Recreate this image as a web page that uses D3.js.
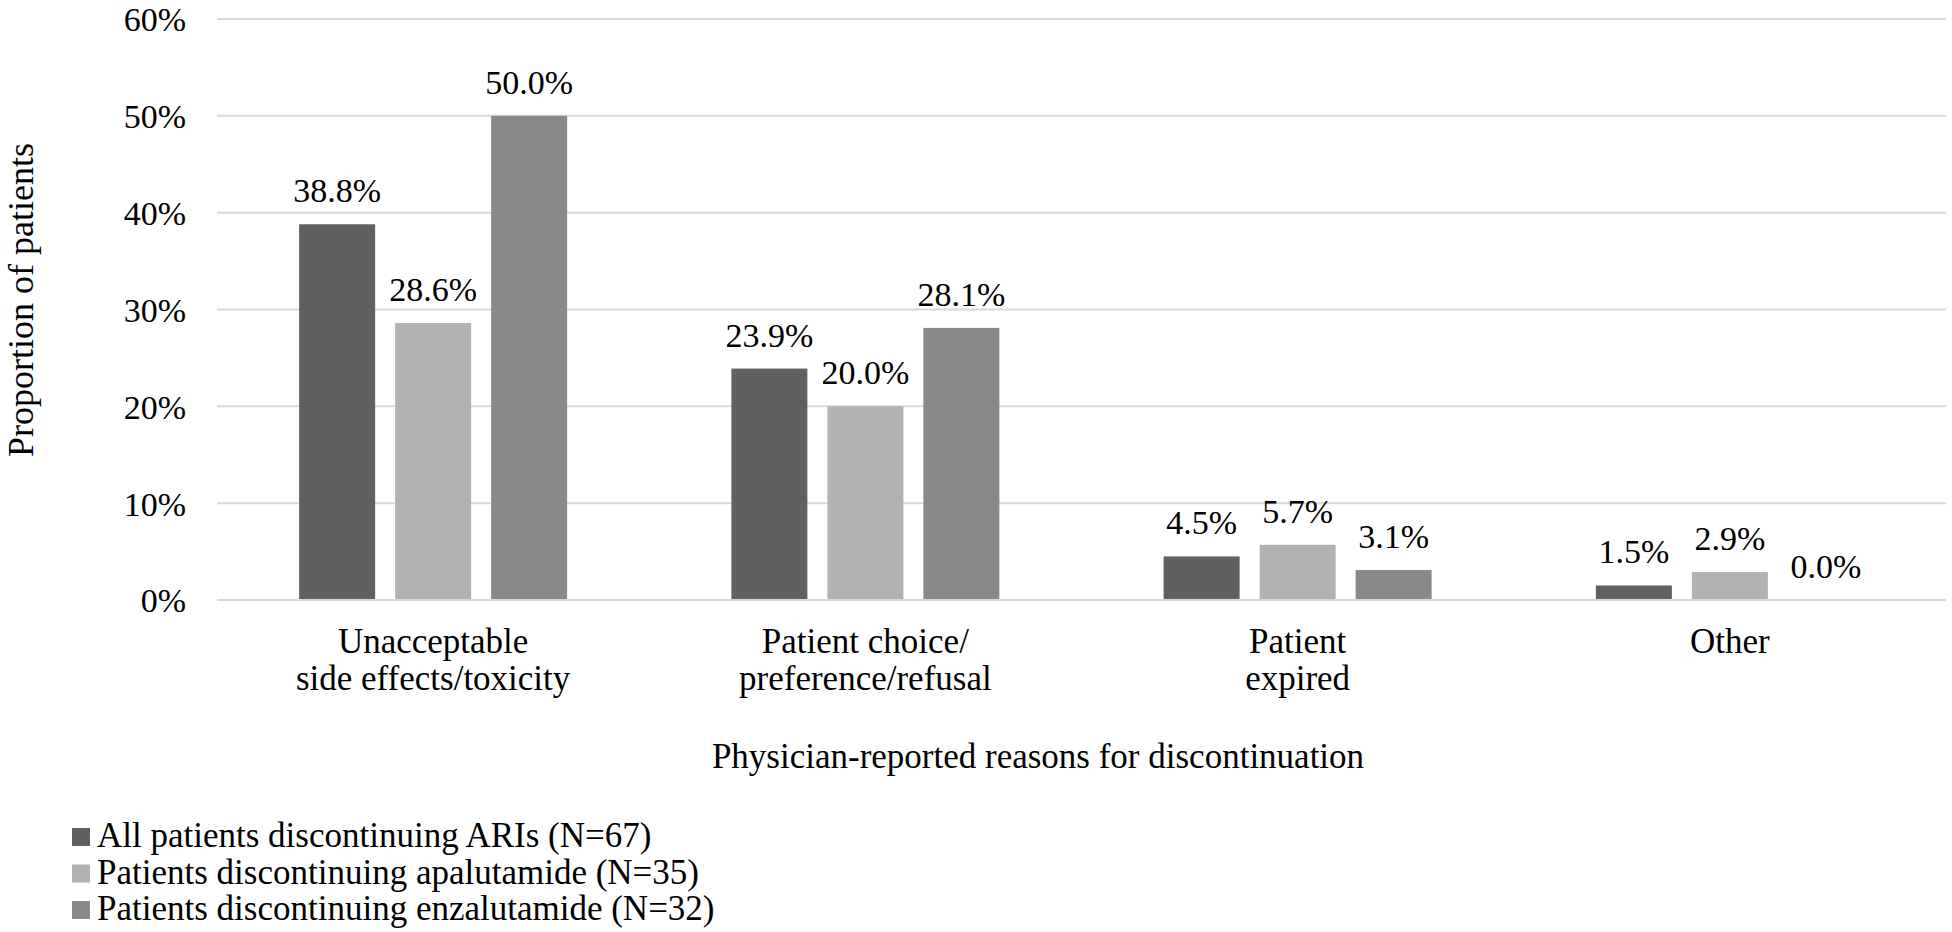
<!DOCTYPE html>
<html>
<head>
<meta charset="utf-8">
<script src="https://cdn.jsdelivr.net/npm/d3@7"></script>
<style>
  html, body { margin: 0; padding: 0; background: #fff; }
  svg text { font-family: "Liberation Serif", "Times New Roman", serif; fill: #000; }
</style>
</head>
<body>
<svg id="chart" width="1952" height="932"></svg>
<script>
const categories = [
  ["Unacceptable", "side effects/toxicity"],
  ["Patient choice/", "preference/refusal"],
  ["Patient", "expired"],
  ["Other"]
];
const seriesNames = [
  "All patients discontinuing ARIs (N=67)",
  "Patients discontinuing apalutamide (N=35)",
  "Patients discontinuing enzalutamide (N=32)"
];
const allARIs      = [38.8, 23.9, 4.5, 1.5];
const apalutamide  = [28.6, 20.0, 5.7, 2.9];
const enzalutamide = [50.0, 28.1, 3.1, 0.0];
const yTicks = [0, 10, 20, 30, 40, 50, 60];
const colors = ["#606060", "#b2b2b2", "#898989"];

const seriesValues = [allARIs, apalutamide, enzalutamide];
const svg = d3.select("#chart");
const FONT = "Liberation Serif, Times New Roman, serif";

const x0 = d3.scaleBand().domain(d3.range(categories.length)).range([217, 1946]).paddingInner(0).paddingOuter(0);
const y = d3.scaleLinear().domain([0, 60]).range([600, 19]);
const bw = 76, gap = 20;
const groupW = 3 * bw + 2 * gap;
const barX = (i, s) => x0(i) + x0.bandwidth() / 2 - groupW / 2 + s * (bw + gap);

// gridlines
svg.append("g").selectAll("line").data(yTicks).join("line")
  .attr("x1", 217).attr("x2", 1946)
  .attr("y1", d => y(d)).attr("y2", d => y(d))
  .attr("stroke", "#d9d9d9").attr("stroke-width", 2);

// y axis labels
const yAxis = d3.axisLeft(y).tickValues(yTicks).tickFormat(d => d + "%").tickSize(0).tickPadding(0);
const yg = svg.append("g").attr("transform", "translate(186,0)").call(yAxis);
yg.attr("font-family", FONT).attr("font-size", 34);
yg.select(".domain").remove();
yg.selectAll("text").attr("dy", "0.35em").attr("fill", "#000")
  .attr("font-family", FONT).attr("font-size", 34);

// bars
seriesValues.forEach((vals, s) => {
  const g = svg.append("g");
  g.selectAll("rect").data(vals).join("rect")
    .attr("x", (d, i) => barX(i, s))
    .attr("width", bw)
    .attr("y", d => y(d))
    .attr("height", d => Math.max(0, y(0) - y(d) - 1))
    .attr("fill", colors[s]);
  g.selectAll("text").data(vals).join("text")
    .attr("x", (d, i) => barX(i, s) + bw / 2)
    .attr("y", d => y(d) - 22)
    .attr("text-anchor", "middle")
    .attr("font-family", FONT).attr("font-size", 34)
    .text(d => d.toFixed(1) + "%");
});

// category labels
const cg = svg.append("g");
categories.forEach((lines, i) => {
  const cx = x0(i) + x0.bandwidth() / 2;
  const t = cg.append("text")
    .attr("x", cx).attr("y", 653)
    .attr("text-anchor", "middle")
    .attr("font-family", FONT).attr("font-size", 35);
  lines.forEach((ln, j) => {
    t.append("tspan").attr("x", cx).attr("y", 653 + j * 37).text(ln);
  });
});

// axis titles
svg.append("text").attr("x", 1038).attr("y", 768).attr("text-anchor", "middle")
  .attr("font-family", FONT).attr("font-size", 35)
  .text("Physician-reported reasons for discontinuation");
svg.append("text").attr("transform", "translate(33,300) rotate(-90)").attr("text-anchor", "middle")
  .attr("font-family", FONT).attr("font-size", 36)
  .text("Proportion of patients");

// legend
const lg = svg.append("g");
seriesNames.forEach((name, i) => {
  const by = 847 + i * 36.5;
  lg.append("rect").attr("x", 72).attr("y", by - 19).attr("width", 18).attr("height", 18).attr("fill", colors[i]);
  lg.append("text").attr("x", 97).attr("y", by)
    .attr("font-family", FONT).attr("font-size", 35).text(name);
});
</script>
</body>
</html>
